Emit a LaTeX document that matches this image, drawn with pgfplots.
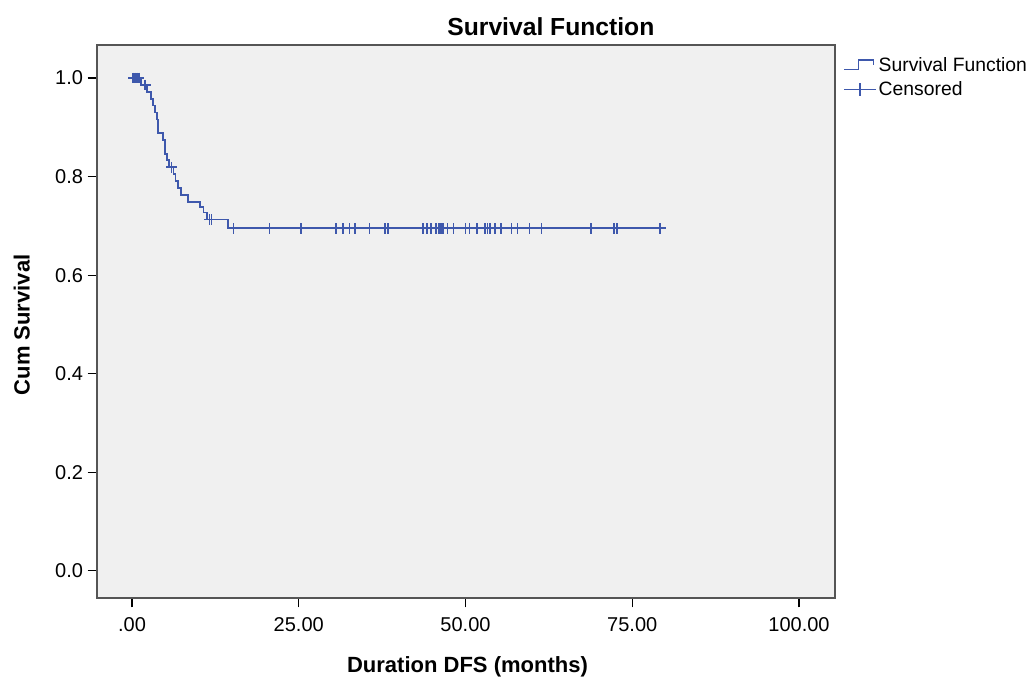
\documentclass[border=0pt]{standalone}
\usepackage{fontspec}
\setmainfont{Liberation Sans}
\usepackage{pgfplots}
\pgfplotsset{compat=1.18}
\definecolor{km}{RGB}{62,88,172}
\definecolor{plotbg}{RGB}{240,240,240}
\definecolor{framegray}{RGB}{85,85,85}

\begin{document}
\begin{tikzpicture}
\path[use as bounding box] (0,0) rectangle (776.25pt,510.75pt);
\begin{axis}[
  at={(72.75pt,62.25pt)}, anchor=south west,
  scale only axis, width=553.5pt, height=414.75pt,
  xmin=-5.25, xmax=105.4, ymin=-0.055, ymax=1.067,
  axis background/.style={fill=plotbg},
  axis line style={framegray, line width=1.1pt},
  xtick={0,25,50,75,100}, xticklabels={.00,25.00,50.00,75.00,100.00},
  ytick={0,0.2,0.4,0.6,0.8,1.0}, yticklabels={0.0,0.2,0.4,0.6,0.8,1.0},
  tick align=outside, tick pos=left, major tick length=7pt,
  tick style={black, line width=0.9pt},
  ticklabel style={font=\fontsize{15}{18}\selectfont},
  xticklabel style={yshift=-4pt},
  /pgf/number format/assume math mode=true,
  title={Survival Function},
  title style={at={(axis description cs:0.615,1.0195)}, anchor=center, font=\bfseries\fontsize{18.5}{22}\selectfont},
  xlabel={Duration DFS (months)},
  xlabel style={at={(axis description cs:0.502,-0.125)}, anchor=center, font=\bfseries\fontsize{16.5}{20}\selectfont},
  ylabel={Cum Survival},
  ylabel style={at={(axis description cs:-0.102,0.494)}, anchor=center, rotate=0, font=\bfseries\fontsize{16.5}{20}\selectfont},
  legend style={at={(axis description cs:1.011,0.982)}, anchor=north west, draw=none, fill=none,
    font=\fontsize{14.5}{17}\selectfont, row sep=3pt, inner sep=0pt,
    nodes={inner sep=1.5pt}},
  legend cell align=left,
  clip=false,
]
% Kaplan-Meier step curve
\addplot[km, line width=1.3pt, const plot mark left,
  legend image code/.code={\draw[km, line width=1pt] (0pt,-3pt) -- (11pt,-3pt) -- (11pt,4pt) -- (22pt,4pt) -- (22pt,0pt);}]
coordinates {
(0,1.0) (1.4,0.986) (2.2,0.972) (2.9,0.958) (3.2,0.944) (3.5,0.930) (3.7,0.916)
(3.95,0.888) (4.6,0.874) (4.9,0.860) (5.0,0.846) (5.2,0.833) (5.5,0.819)
(6.2,0.805) (6.5,0.791) (6.9,0.777) (7.3,0.763) (8.4,0.749) (10.2,0.738)
(10.7,0.727) (11.2,0.713) (14.4,0.695) (79.2,0.695)
};
\addlegendentry{Survival Function}
% censored cases
\addplot[only marks, mark=+, mark size=4pt, km, mark options={line width=1.3pt},
  legend image code/.code={\draw[km, line width=1pt] (0pt,0pt) -- (24pt,0pt); \draw[km, line width=1pt] (12pt,-5pt) -- (12pt,5pt);}]
coordinates {
(0.2,1.0) (0.4,1.0) (0.7,1.0) (1.0,1.0) (2.0,0.986) (5.9,0.819) (11.6,0.713) (11.9,0.713)
(15.2,0.695) (20.6,0.695) (25.3,0.695) (30.6,0.695) (31.6,0.695) (32.6,0.695) (33.4,0.695)
(35.6,0.695) (37.9,0.695) (38.4,0.695) (43.6,0.695) (44.2,0.695) (44.8,0.695) (45.6,0.695)
(46.0,0.695) (46.3,0.695) (46.6,0.695) (47.3,0.695) (48.2,0.695) (50.0,0.695) (50.6,0.695)
(51.7,0.695) (52.9,0.695) (53.3,0.695) (53.7,0.695) (54.4,0.695) (55.3,0.695) (56.9,0.695)
(57.8,0.695) (59.6,0.695) (61.4,0.695) (68.8,0.695) (72.3,0.695) (72.7,0.695) (79.2,0.695)
};
\addlegendentry{Censored}
\end{axis}
\end{tikzpicture}
\end{document}
